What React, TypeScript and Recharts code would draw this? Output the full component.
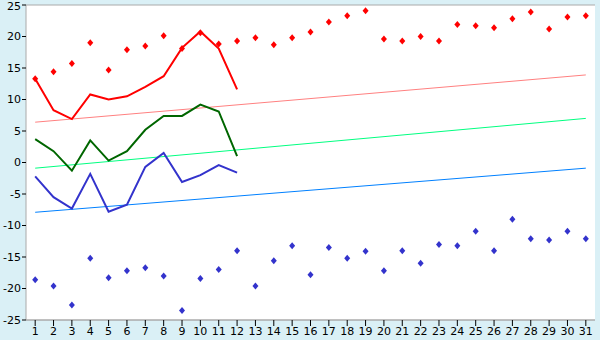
import React from "react";
import {
  ComposedChart,
  Line,
  XAxis,
  YAxis,
  CartesianGrid,
} from "recharts";

// day of month
const days = Array.from({ length: 31 }, (_, i) => String(i + 1));

// daily max (red diamonds)
const maxPoints = [
  13.3, 14.4, 15.7, 19.0, 14.7, 17.9, 18.5, 20.1, 18.1, 20.6, 18.8, 19.3, 19.8, 18.7, 19.8,
  20.7, 22.3, 23.3, 24.1, 19.6, 19.3, 20.0, 19.3, 21.9, 21.7, 21.4, 22.8, 23.9, 21.2, 23.1, 23.3,
];

// daily min (blue diamonds)
const minPoints = [
  -18.6, -19.6, -22.6, -15.2, -18.3, -17.2, -16.7, -18.0, -23.5, -18.4, -17.0, -14.0, -19.6, -15.6, -13.2,
  -17.8, -13.5, -15.2, -14.1, -17.2, -14.0, -16.0, -13.0, -13.2, -10.9, -14.0, -9.0, -12.1, -12.3, -10.9, -12.1,
];

// current year, first 12 days
const maxLine = [13.3, 8.3, 6.9, 10.8, 10.0, 10.5, 12.0, 13.7, 18.2, 20.8, 18.1, 11.6];
const meanLine = [3.7, 1.8, -1.3, 3.5, 0.3, 1.8, 5.2, 7.4, 7.4, 9.2, 8.1, 1.0];
const minLine = [-2.2, -5.5, -7.3, -1.8, -7.8, -6.7, -0.7, 1.5, -3.1, -2.0, -0.4, -1.6];

// normals: start and end of month
const normalMax = [6.4, 13.9];
const normalMean = [-0.9, 7.0];
const normalMin = [-7.9, -0.9];

const yTicks = [-25, -20, -15, -10, -5, 0, 5, 10, 15, 20, 25];

const edge = (arr: number[], i: number) =>
  i === 0 ? arr[0] : i === days.length - 1 ? arr[1] : null;

const data = days.map((d, i) => ({
  day: d,
  hi: maxPoints[i],
  lo: minPoints[i],
  maxL: i < maxLine.length ? maxLine[i] : null,
  meanL: i < meanLine.length ? meanLine[i] : null,
  minL: i < minLine.length ? minLine[i] : null,
  nMax: edge(normalMax, i),
  nMean: edge(normalMean, i),
  nMin: edge(normalMin, i),
}));

const Diamond = (color: string) => (props: any) => {
  const { cx, cy, index } = props;
  if (cx == null || cy == null) return <g key={index} />;
  return (
    <path
      key={index}
      d={`M${cx},${cy - 3.5}L${cx + 3},${cy}L${cx},${cy + 3.5}L${cx - 3},${cy}Z`}
      fill={color}
      stroke="none"
    />
  );
};

const tickStyle = { fill: "#000", fontSize: 11, fontFamily: "DejaVu Sans, Verdana, sans-serif" };

export default function App() {
  return (
    <div style={{ position: "fixed", top: 0, left: 0, width: 600, height: 340, background: "#daf0f6" }}>
      <ComposedChart width={600} height={340} data={data} margin={{ top: 5, right: 5, left: 0, bottom: 0 }}>
        <CartesianGrid vertical={false} stroke="#aaaaaa" fill="#ffffff" />
        <XAxis
          dataKey="day"
          scale="band"
          height={20}
          tick={tickStyle}
          tickSize={6}
          tickMargin={1}
          interval={0}
          axisLine={{ stroke: "#aaaaaa" }}
          tickLine={{ stroke: "#000" }}
        />
        <YAxis
          yAxisId="l"
          width={26}
          domain={[-25, 25]}
          ticks={yTicks}
          tick={tickStyle}
          tickSize={4}
          tickMargin={1}
          axisLine={{ stroke: "#aaaaaa" }}
          tickLine={{ stroke: "#000" }}
          allowDataOverflow
        />
        <YAxis yAxisId="r" orientation="right" width={0} tick={false} axisLine={{ stroke: "#aaaaaa" }} tickLine={false} />
        <Line yAxisId="l" dataKey="nMax" stroke="#ff8080" strokeWidth={1} dot={false} connectNulls isAnimationActive={false} />
        <Line yAxisId="l" dataKey="nMean" stroke="#00ff80" strokeWidth={1} dot={false} connectNulls isAnimationActive={false} />
        <Line yAxisId="l" dataKey="nMin" stroke="#0080ff" strokeWidth={1} dot={false} connectNulls isAnimationActive={false} />
        <Line yAxisId="l" dataKey="maxL" stroke="#ff0000" strokeWidth={2} dot={false} isAnimationActive={false} />
        <Line yAxisId="l" dataKey="meanL" stroke="#006600" strokeWidth={2} dot={false} isAnimationActive={false} />
        <Line yAxisId="l" dataKey="minL" stroke="#3333cc" strokeWidth={2} dot={false} isAnimationActive={false} />
        <Line yAxisId="l" dataKey="hi" stroke="none" dot={Diamond("#ff0000")} activeDot={false} isAnimationActive={false} />
        <Line yAxisId="l" dataKey="lo" stroke="none" dot={Diamond("#3333cc")} activeDot={false} isAnimationActive={false} />
      </ComposedChart>
    </div>
  );
}
